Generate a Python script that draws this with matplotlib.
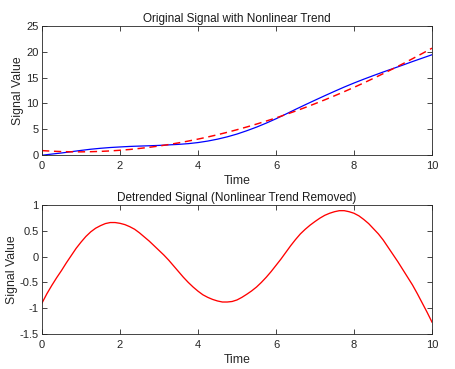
import numpy as np
import matplotlib
matplotlib.use("Agg")
import matplotlib.pyplot as plt

plt.rcParams['font.family'] = ['Liberation Sans', 'DejaVu Sans']

# top panel samples
time = [0.0, 0.25, 0.5, 0.75, 1.0, 1.25, 1.5, 1.75, 2.0, 2.25, 2.5, 2.75,
        3.0, 3.25, 3.5, 3.75, 4.0, 4.25, 4.5, 4.75, 5.0, 5.25, 5.5, 5.75,
        6.0, 6.25, 6.5, 6.75, 7.0, 7.25, 7.5, 7.75, 8.0, 8.25, 8.5, 8.75,
        9.0, 9.25, 9.5, 9.75, 10.0]

original_signal = [-0.05, 0.18, 0.39, 0.64, 0.89, 1.12, 1.30, 1.45, 1.56, 1.66,
                   1.73, 1.79, 1.86, 1.96, 2.06, 2.20, 2.41, 2.70, 3.07, 3.52,
                   4.06, 4.70, 5.40, 6.18, 7.02, 7.92, 8.84, 9.74, 10.62, 11.49,
                   12.34, 13.17, 13.95, 14.69, 15.40, 16.09, 16.75, 17.42, 18.11,
                   18.77, 19.43]

trend = [0.85, 0.74, 0.66, 0.62, 0.61, 0.64, 0.70, 0.79, 0.92, 1.07, 1.27,
         1.49, 1.74, 2.03, 2.35, 2.70, 3.08, 3.49, 3.93, 4.40, 4.90, 5.43,
         5.99, 6.58, 7.19, 7.84, 8.51, 9.21, 9.94, 10.69, 11.47, 12.28,
         13.11, 13.97, 14.86, 15.77, 16.71, 17.67, 18.66, 19.67, 20.70]

# bottom panel samples
time_fine = [0.0, 0.125, 0.25, 0.375, 0.5, 0.625, 0.75, 0.875, 1.0, 1.125,
             1.25, 1.375, 1.5, 1.625, 1.75, 1.875, 2.0, 2.125, 2.25, 2.375,
             2.5, 2.625, 2.75, 2.875, 3.0, 3.125, 3.25, 3.375, 3.5, 3.625,
             3.75, 3.875, 4.0, 4.125, 4.25, 4.375, 4.5, 4.625, 4.75, 4.875,
             5.0, 5.125, 5.25, 5.375, 5.5, 5.625, 5.75, 5.875, 6.0, 6.125,
             6.25, 6.375, 6.5, 6.625, 6.75, 6.875, 7.0, 7.125, 7.25, 7.375,
             7.5, 7.625, 7.75, 7.875, 8.0, 8.125, 8.25, 8.375, 8.5, 8.625,
             8.75, 8.875, 9.0, 9.125, 9.25, 9.375, 9.5, 9.625, 9.75, 9.875,
             10.0]

detrended = [-0.90, -0.72, -0.56, -0.41, -0.27, -0.12, 0.02, 0.16, 0.28, 0.39,
             0.48, 0.55, 0.60, 0.64, 0.66, 0.66, 0.645, 0.62, 0.58, 0.53,
             0.46, 0.38, 0.30, 0.21, 0.12, 0.03, -0.07, -0.18, -0.29, -0.40,
             -0.50, -0.59, -0.67, -0.74, -0.79, -0.83, -0.86, -0.88, -0.88, -0.87,
             -0.84, -0.79, -0.73, -0.665, -0.59, -0.50, -0.40, -0.29, -0.17, -0.05,
             0.08, 0.21, 0.33, 0.44, 0.53, 0.61, 0.68, 0.745, 0.80, 0.84,
             0.87, 0.89, 0.89, 0.87, 0.84, 0.79, 0.72, 0.64, 0.54, 0.44,
             0.32, 0.18, 0.04, -0.10, -0.25, -0.40, -0.55, -0.72, -0.90, -1.08,
             -1.27]

top_yticks = [0, 5, 10, 15, 20, 25]
bottom_yticks = [-1.5, -1, -0.5, 0, 0.5, 1]
bottom_ytick_labels = ['-1.5', '-1', '-0.5', '0', '0.5', '1']
xticks = [0, 2, 4, 6, 8, 10]

axcol = '#262626'
fig = plt.figure(figsize=(4.56, 3.69), dpi=100)
ax1 = fig.add_axes([42/456, 1-155/369, 390/456, 129/369])
ax2 = fig.add_axes([42/456, 1-334/369, 390/456, 129/369])

ax1.plot(time, original_signal, color='#0000ff', lw=0.9)
ax1.plot(time, trend, color='#ff0000', lw=1.05, dashes=(5, 3.2))
ax1.set_xlim(0, 10)
ax1.set_ylim(0, 25)
ax1.set_yticks(top_yticks)
ax1.set_title('Original Signal with Nonlinear Trend', fontsize=8.5, pad=3, color='#1a1a1a')
ax1.set_ylabel('Signal Value', fontsize=8.8, color=axcol, labelpad=1.5)

ax2.plot(time_fine, detrended, color='#ff0000', lw=0.95)
ax2.set_xlim(0, 10)
ax2.set_ylim(-1.5, 1)
ax2.set_yticks(bottom_yticks)
ax2.set_yticklabels(bottom_ytick_labels)
ax2.set_title('Detrended Signal (Nonlinear Trend Removed)', fontsize=8.5, pad=3, color='#1a1a1a')
ax2.set_ylabel('Signal Value', fontsize=8.8, color=axcol, labelpad=1)

for ax in (ax1, ax2):
    ax.set_xticks(xticks)
    ax.set_xlabel('Time', fontsize=8.8, color=axcol, labelpad=3)
    ax.tick_params(direction='in', length=3.5, width=0.6, colors=axcol,
                   labelsize=8, top=True, right=True)
    ax.tick_params(axis='x', pad=4.5)
    ax.tick_params(axis='y', pad=2.5)
    for s in ax.spines.values():
        s.set_color(axcol)
        s.set_linewidth(0.6)

fig.savefig('out.png', dpi=100)
